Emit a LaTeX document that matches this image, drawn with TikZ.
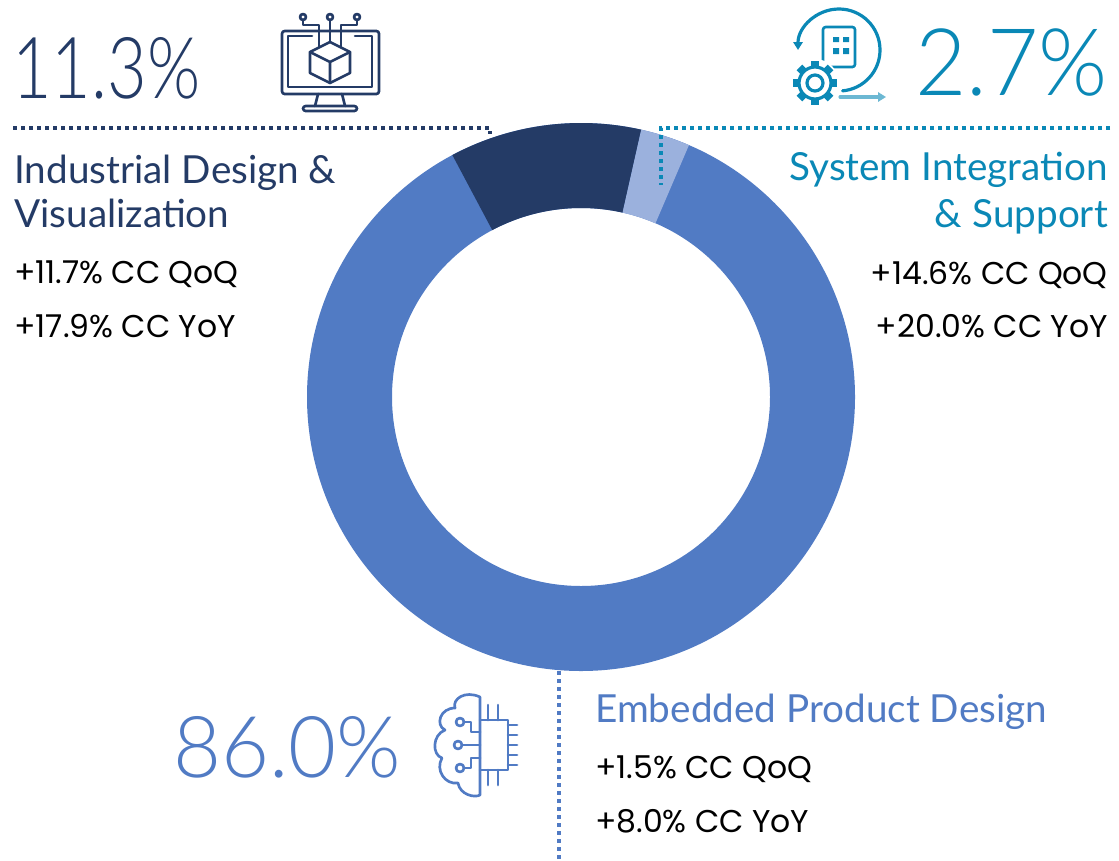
\documentclass[tikz,border=0pt]{standalone}
\usepackage{fontspec}
\setmainfont{Lato}
\newfontfamily\figfont{Lato Light}
\newfontfamily\metfont{Poppins}
\usetikzlibrary{positioning,calc,arrows.meta}
\definecolor{navy}{HTML}{243B66}
\definecolor{midblue}{HTML}{517BC4}
\definecolor{paleblue}{HTML}{9BB1DD}
\definecolor{sysblue}{HTML}{0A88B6}
\tikzstyle{share} = [inner sep=0pt, anchor=base west,
    font=\figfont\fontsize{64}{64}\selectfont]
\tikzstyle{segname} = [inner sep=0pt, anchor=base west,
    font=\fontsize{29}{29}\selectfont]
\tikzstyle{growth} = [inner sep=0pt, anchor=base west,
    font=\metfont\fontsize{23.6}{23.6}\selectfont]
\tikzstyle{leader} = [draw, line width=3pt, dash pattern=on 3pt off 3pt]
\tikzstyle{icon} = [line width=2pt, line cap=round, line join=round]
\begin{document}
\begin{tikzpicture}[x=0.75pt, y=-0.75pt]
        \useasboundingbox (0,0) rectangle (1119,860);
        
        % Donut of revenue shares
        \coordinate (ctr) at (581,397);
        \fill[midblue, even odd rule] (ctr) circle (274) (ctr) circle (189);
        \fill[navy] ($(ctr)+(-118:274)$) arc[start angle=-118, end angle=-77.3, radius=274]
            -- ($(ctr)+(-77.3:189)$) arc[start angle=-77.3, end angle=-118, radius=189] -- cycle;
        \fill[paleblue] ($(ctr)+(-77.3:274)$) arc[start angle=-77.3, end angle=-66.8, radius=274]
            -- ($(ctr)+(-66.8:189)$) arc[start angle=-66.8, end angle=-77.3, radius=189] -- cycle;
        
        % 1. Industrial Design & Visualization
        \node[share, navy] (idvshare) at (12,98) {\scalebox{0.8}[1]{11.3\%}};
        \node[segname, navy] (idvname) at (14,183) {Industrial Design \&};
        \node[segname, navy] (idvname2) at (14,227) {Visualization};
        \node[growth] (idvqoq) at (14,283) {+11.7\% CC QoQ};
        \node[growth] (idvyoy) at (14,337) {+17.9\% CC YoY};
        \coordinate (idvA) at (13,128);
        \coordinate (idvB) at (490,128);
        \coordinate (idvC) at (490,134);
        \draw[leader, navy] (idvA) -- (idvB) -- (idvC);
        % monitor icon
        \begin{scope}[icon, navy]
          \draw[rounded corners=2pt] (282,31) rectangle (379,94);
          \draw (312,36) -- (288,36) -- (288,87) -- (372,87) -- (372,36) -- (355,36);
          \draw (318,94) -- (315,106);
          \draw (342,94) -- (345,106);
          \draw[rounded corners=2pt] (303,106) rectangle (357,111);
          \draw (330,42) -- (350,52) -- (350,73) -- (330,83) -- (310,73) -- (310,52) -- cycle;
          \draw (310,52) -- (330,62) -- (350,52) (330,62) -- (330,83);
          \draw (303,17) circle (3) (330,17) circle (3) (357,17) circle (3);
          \draw (303,20) -- (303,25) -- (319,25) -- (319,47);
          \draw (330,20) -- (330,42);
          \draw (357,20) -- (357,25) -- (341,25) -- (341,47);
        \end{scope}
        
        % 2. System Integration & Support
        \node[share, sysblue, anchor=base east, font=\figfont\fontsize{70}{70}\selectfont]
            (sisshare) at (1108,95) {\scalebox{0.95}[1]{2.7\%}};
        \node[segname, sysblue, anchor=base east] (sisname) at (1108,180) {System Integration};
        \node[segname, sysblue, anchor=base east] (sisname2) at (1108,227) {\& Support};
        \node[growth, anchor=base east] (sisqoq) at (1108,284) {+14.6\% CC QoQ};
        \node[growth, anchor=base east] (sisyoy) at (1108,337) {+20.0\% CC YoY};
        \coordinate (sisA) at (1110,128);
        \coordinate (sisB) at (661,128);
        \coordinate (sisC) at (661,185);
        \draw[leader, sysblue] (sisA) -- (sisB) -- (sisC);
        % gear and server icon
        \coordinate (gear) at (815,83);
        \begin{scope}[icon, sysblue]
          \draw[rounded corners=2pt] (823,27) rectangle (855,67);
          \fill (833,37) rectangle (839,42) (843,37) rectangle (849,42)
                (833,48) rectangle (839,54) (843,48) rectangle (849,54);
          \fill[white] (gear) circle (24);
          \foreach \a in {0,45,...,315}
            \fill[rotate around={\a:(gear)}] ($(gear)+(-4,-22)$) rectangle ($(gear)+(4,-15)$);
          \draw[line width=2.4pt] (gear) circle (16);
          \draw[line width=2.4pt] (gear) circle (8);
          \draw[line width=2.4pt, {Triangle[length=6pt,width=7pt]}-]
              (798,50) arc[start angle=-180, end angle=85, radius=41];
          \draw[line width=2.4pt, sysblue!60, -{Triangle[length=6pt,width=7pt]}] (840,97) -- (886,97);
        \end{scope}
        
        % 3. Embedded Product Design
        \node[share, midblue] (epdshare) at (173,777) {\scalebox{0.97}[1]{86.0\%}};
        \node[segname, midblue] (epdname) at (595,722) {Embedded Product Design};
        \node[growth] (epdqoq) at (595,778) {+1.5\% CC QoQ};
        \node[growth] (epdyoy) at (595,832) {+8.0\% CC YoY};
        \coordinate (epdA) at (559,671);
        \coordinate (epdB) at (559,860);
        \draw[leader, midblue] (epdA) -- (epdB);
        % brain and chip icon
        \begin{scope}[icon, midblue]
          \draw (480,697) .. controls (465,690) and (452,699) .. (455,708)
                .. controls (440,708) and (435,725) .. (445,730)
                .. controls (432,735) and (432,755) .. (442,758)
                .. controls (435,770) and (445,785) .. (458,783)
                .. controls (460,795) and (475,798) .. (480,795) -- cycle;
          \draw (480,720) -- (508,720) -- (508,770) -- (480,770);
          \foreach \y in {725,735,745,755,765}
            \draw (508,\y) -- (517,\y);
          \foreach \x in {488,498}
            \draw (\x,705) -- (\x,720) (\x,770) -- (\x,785);
          \draw (460,722) circle (4) (458,745) circle (4) (460,768) circle (4);
          \draw (464,722) -- (471,722) -- (471,732) -- (480,732);
          \draw (462,745) -- (480,745);
          \draw (464,768) -- (471,768) -- (471,758) -- (480,758);
        \end{scope}
        
      \end{tikzpicture}
\end{document}
